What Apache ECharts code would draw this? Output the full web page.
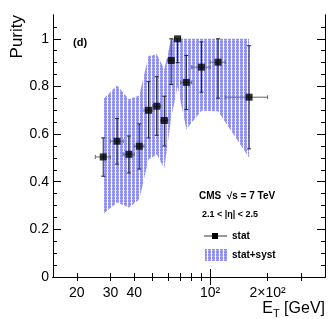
<!DOCTYPE html>
<html><head><meta charset="utf-8">
<script src="https://cdn.jsdelivr.net/npm/echarts@6/dist/echarts.min.js"></script>
<style>html,body{margin:0;padding:0;background:#fff}#c{width:332px;height:319px}</style>
</head><body><div id="c"></div>
<script>
// ---- data ----
const etCenter = [27.5, 32.5, 37.5, 42.5, 47.5, 52.5, 57.5, 62.5, 67.5, 75, 90, 110, 160];
const etLow    = [25, 30, 35, 40, 45, 50, 55, 60, 65, 70, 80, 100, 120];
const etHigh   = [30, 35, 40, 45, 50, 55, 60, 65, 70, 80, 100, 120, 200];
const purity      = [0.504, 0.570, 0.515, 0.549, 0.700, 0.717, 0.657, 0.909, 1.000, 0.817, 0.881, 0.902, 0.755];
const statErrDown = [0.081, 0.096, 0.078, 0.096, 0.116, 0.122, 0.107, 0.101, 0.100, 0.114, 0.105, 0.151, 0.217];
const statErrUp   = [0.080, 0.095, 0.077, 0.094, 0.120, 0.124, 0.102, 0.091, 0.000, 0.113, 0.106, 0.098, 0.216];
const bandLower = [0.264, 0.313, 0.292, 0.325, 0.493, 0.514, 0.456, 0.670, 0.800, 0.620, 0.698, 0.696, 0.502];
const bandUpper = [0.746, 0.804, 0.746, 0.762, 0.928, 0.935, 0.872, 1.000, 1.000, 1.000, 1.000, 1.000, 1.000];
const xTickLabels = [20, 30, 40, 100, 200];
const xMinorTicks = [20, 30, 40, 50, 60, 70, 80, 90, 200, 300];
const xMajorTicks = [100];
const yMajorTicks = [0, 0.2, 0.4, 0.6, 0.8, 1.0];
const yMinorTicks = [0.05, 0.1, 0.15, 0.25, 0.3, 0.35, 0.45, 0.5, 0.55, 0.65, 0.7, 0.75, 0.85, 0.9, 0.95, 1.05];

const FONT = '"Liberation Sans", Arial, Helvetica, sans-serif';

function makePattern() {
  const c = document.createElement('canvas');
  c.width = 4; c.height = 3;
  const g = c.getContext('2d');
  g.fillStyle = '#8e8ef8'; g.fillRect(0, 0, 4, 3);
  g.fillStyle = '#bdbdfc'; g.fillRect(0, 1, 1, 1); g.fillRect(2, 1, 1, 1);
  g.fillStyle = '#ffffff'; g.fillRect(3, 0, 1, 3);
  return c;
}
const pattern = { image: makePattern(), repeat: 'repeat' };

const chart = echarts.init(document.getElementById('c'), null, { renderer: 'canvas' });

const bandData = etCenter.map((x, i) => [x, bandLower[i], bandUpper[i]]);
const pointData = etCenter.map((x, i) => [x, purity[i], etLow[i], etHigh[i], purity[i] - statErrDown[i], purity[i] + statErrUp[i]]);

function xAxisBase(pos, extra) {
  return Object.assign({
    type: 'log', logBase: 10, min: 15, max: 400, position: pos,
    axisLine: { show: true, lineStyle: { color: '#000', width: 1 } },
    splitLine: { show: false },
    axisLabel: { show: false },
    axisTick: { show: false }
  }, extra);
}
function yAxisBase(pos, extra) {
  return Object.assign({
    type: 'value', min: 0, max: 1.1, position: pos,
    axisLine: { show: true, lineStyle: { color: '#000', width: 1 } },
    splitLine: { show: false },
    axisLabel: { show: false },
    axisTick: { show: false }
  }, extra);
}

const option = {
  animation: false,
  backgroundColor: '#fff',
  grid: { left: 53, right: 7, top: 15, bottom: 42, containLabel: false },
  xAxis: [
    xAxisBase('bottom', {
      axisLabel: {
        show: true, customValues: xTickLabels, margin: 9,
        fontFamily: FONT, fontSize: 14, color: '#000',
        formatter: v => (Math.abs(v - 100) < 1e-6 ? '10²' : Math.abs(v - 200) < 1e-6 ? '2×10²' : String(Math.round(v)))
      },
      axisTick: { show: true, inside: true, length: 4, customValues: xMinorTicks, lineStyle: { color: '#000' } }
    }),
    xAxisBase('bottom', { axisTick: { show: true, inside: true, length: 8, customValues: xMajorTicks, lineStyle: { color: '#000' } } }),
    xAxisBase('top', { axisTick: { show: true, inside: true, length: 4, customValues: xMinorTicks, lineStyle: { color: '#000' } } }),
    xAxisBase('top', { axisTick: { show: true, inside: true, length: 8, customValues: xMajorTicks, lineStyle: { color: '#000' } } })
  ],
  yAxis: [
    yAxisBase('left', {
      axisLabel: {
        show: true, customValues: yMajorTicks, margin: 4,
        fontFamily: FONT, fontSize: 14, color: '#000',
        formatter: v => (Math.abs(v) < 1e-9 ? '0' : Math.abs(v - 1) < 1e-9 ? '1' : v.toFixed(1))
      },
      axisTick: { show: true, inside: true, length: 8, customValues: yMajorTicks, lineStyle: { color: '#000' } }
    }),
    yAxisBase('left', { axisTick: { show: true, inside: true, length: 4, customValues: yMinorTicks, lineStyle: { color: '#000' } } }),
    yAxisBase('right', { axisTick: { show: true, inside: true, length: 8, customValues: yMajorTicks, lineStyle: { color: '#000' } } }),
    yAxisBase('right', { axisTick: { show: true, inside: true, length: 4, customValues: yMinorTicks, lineStyle: { color: '#000' } } })
  ],
  series: [
    {
      name: 'stat+syst', type: 'custom', xAxisIndex: 0, yAxisIndex: 0,
      data: bandData, encode: { x: 0, y: [1, 2] }, z: 1,
      renderItem: function (params, api) {
        if (params.dataIndexInside !== 0) return null;
        const n = params.dataInsideLength;
        const pts = [];
        for (let i = 0; i < n; i++) pts.push(api.coord([api.value(0, i), api.value(2, i)]));
        for (let i = n - 1; i >= 0; i--) pts.push(api.coord([api.value(0, i), api.value(1, i)]));
        return { type: 'polygon', shape: { points: pts }, style: { fill: pattern, stroke: null } };
      }
    },
    {
      name: 'staterr', type: 'custom', xAxisIndex: 0, yAxisIndex: 0,
      data: pointData, encode: { x: [0, 2, 3], y: [1, 4, 5] }, z: 2,
      renderItem: function (params, api) {
        const x = api.value(0), y = api.value(1);
        const c = api.coord([x, y]);
        const l = api.coord([api.value(2), y]);
        const r = api.coord([api.value(3), y]);
        const lo = api.coord([x, api.value(4)]);
        const hi = api.coord([x, api.value(5)]);
        const cap = 2;
        const st = { stroke: '#222', lineWidth: 1 };
        const sth = { stroke: '#666', lineWidth: 1 };
        const ch = [
          { type: 'line', shape: { x1: l[0], y1: c[1], x2: r[0], y2: c[1] }, style: sth },
          { type: 'line', shape: { x1: l[0], y1: c[1] - cap, x2: l[0], y2: c[1] + cap }, style: sth },
          { type: 'line', shape: { x1: r[0], y1: c[1] - cap, x2: r[0], y2: c[1] + cap }, style: sth },
          { type: 'line', shape: { x1: c[0], y1: lo[1], x2: c[0], y2: hi[1] }, style: st },
          { type: 'line', shape: { x1: c[0] - cap, y1: lo[1], x2: c[0] + cap, y2: lo[1] }, style: st }
        ];
        if (Math.abs(hi[1] - c[1]) > 0.5) ch.push({ type: 'line', shape: { x1: c[0] - cap, y1: hi[1], x2: c[0] + cap, y2: hi[1] }, style: st });
        return { type: 'group', children: ch };
      }
    },
    {
      name: 'stat', type: 'scatter', xAxisIndex: 0, yAxisIndex: 0,
      data: etCenter.map((x, i) => [x, purity[i]]),
      symbol: 'rect', symbolSize: 7, itemStyle: { color: '#000' }, z: 3
    }
  ],
  graphic: [
    { type: 'text', x: 17.5, y: 15, rotation: Math.PI / 2,
      style: { text: 'Purity', font: '17px ' + FONT, fill: '#000', align: 'right', verticalAlign: 'middle' } },
    { type: 'text', x: 325, y: 309,
      style: { text: '{e|E}{t|T}{e| [GeV]}', align: 'right', verticalAlign: 'middle',
        rich: { e: { fontSize: 16, fontFamily: FONT, fill: '#000', color: '#000' },
                t: { fontSize: 11, fontFamily: FONT, color: '#000', padding: [9, 0, 0, 0] } } } },
    { type: 'text', x: 73, y: 43,
      style: { text: '(d)', font: 'bold 11px ' + FONT, fill: '#000', align: 'left', verticalAlign: 'middle' } },
    { type: 'text', x: 199, y: 196,
      style: { text: 'CMS  √s = 7 TeV', font: 'bold 10px ' + FONT, fill: '#000', align: 'left', verticalAlign: 'middle' } },
    { type: 'text', x: 202, y: 215,
      style: { text: '2.1 < |η| < 2.5', font: 'bold 9px ' + FONT, fill: '#000', align: 'left', verticalAlign: 'middle' } },
    { type: 'line', shape: { x1: 204, y1: 236, x2: 227, y2: 236 }, style: { stroke: '#333', lineWidth: 1 } },
    { type: 'rect', shape: { x: 212, y: 233, width: 6, height: 6 }, style: { fill: '#000' } },
    { type: 'text', x: 232, y: 236,
      style: { text: 'stat', font: 'bold 10px ' + FONT, fill: '#000', align: 'left', verticalAlign: 'middle' } },
    { type: 'rect', shape: { x: 205, y: 249, width: 22, height: 12 }, style: { fill: pattern } },
    { type: 'text', x: 232, y: 255,
      style: { text: 'stat+syst', font: 'bold 10px ' + FONT, fill: '#000', align: 'left', verticalAlign: 'middle' } }
  ]
};
chart.setOption(option);
</script>
</body></html>
